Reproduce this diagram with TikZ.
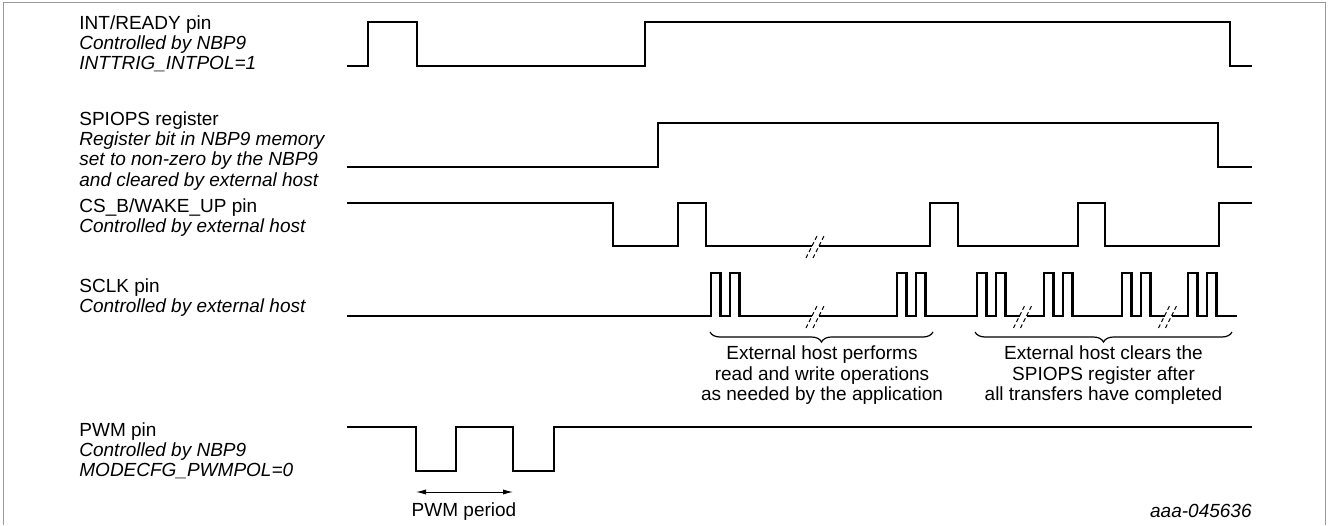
\documentclass[tikz,border=0pt]{standalone}
\usepackage{fontspec}
\setmainfont{Liberation Sans}
\usetikzlibrary{arrows.meta,positioning,decorations.pathreplacing}
\definecolor{frgrey}{HTML}{9A9A9A}
% break mark on a signal line: gap + two dashed slashes
\newcommand{\sigbreak}[2]{%
  \fill[white] (#1-3.5,#2-3) rectangle (#1+3.5,#2+3);
  \draw[brk] (#1-9.5,#2+12) -- (#1+2.5,#2-12);
  \draw[brk] (#1-2.5,#2+12) -- (#1+9.5,#2-12);}

\begin{document}
\begin{tikzpicture}[
  x=0.5pt,y=-0.5pt,
  font=\fontsize{9.5}{10.2}\selectfont,
  sig/.style={line width=1.25pt},
  brk/.style={line width=0.5pt,dash pattern=on 2pt off 1.4pt},
  lbl/.style={anchor=base west,align=left,inner sep=0pt},
  note/.style={anchor=base,align=center,inner sep=0pt},
  brc/.style={decorate,decoration={brace,mirror,amplitude=5pt},line width=0.6pt},
  >={Latex[length=5pt,width=2.6pt]}]
\useasboundingbox (0,0) rectangle (1328,525);
\draw[frgrey,line width=0.5pt] (3,525) |- (1325,2) -- (1325,525);

% signal names (base = last line)
\node[lbl] (lint) at (79,69.8) {INT/READY pin\\\textit{Controlled by NBP9}\\\textit{INTTRIG\_INTPOL=1}};
\node[lbl] (lspi) at (79,186.2) {SPIOPS register\\\textit{Register bit in NBP9 memory}\\\textit{set to non-zero by the NBP9}\\\textit{and cleared by external host}};
\node[lbl] (lcs) at (79,232.4) {CS\_B/WAKE\_UP pin\\\textit{Controlled by external host}};
\node[lbl] (lclk) at (79,312.4) {SCLK pin\\\textit{Controlled by external host}};
\node[lbl] (lpwm) at (79,476.8) {PWM pin\\\textit{Controlled by NBP9}\\\textit{MODECFG\_PWMPOL=0}};

% waveforms
\draw[sig] (347,66) -| (368,22) -| (417,66) -| (645,22) -| (1230,66) -- (1252,66);
\draw[sig] (347,167) -| (658,123) -| (1218,167) -- (1252,167);
\draw[sig] (347,203) -| (613,246) -| (678,203) -| (706,246) -| (930,203) -| (958,246)
  -| (1078,203) -| (1105,246) -| (1219,203) -- (1252,203);
\draw[sig] (347,316) foreach \b in {711,897,977,1044,1122,1188} {
  -| (\b,273) -| ++(9.5,43) -| ++(9.5,-43) -| ++(9.5,43) } -- (1237,316);
\draw[sig] (347,427) -| (416,471) -| (456,427) -| (513,471) -| (554,427) -- (1252,427);

\sigbreak{815.5}{246}
\sigbreak{815.5}{316}
\sigbreak{1023}{316}
\sigbreak{1168}{316}

% braces and notes
\coordinate (b1l) at (710,332);
\coordinate (b1r) at (933,332);
\coordinate (b2l) at (975,332);
\coordinate (b2r) at (1232,332);
\draw[brc] (b1l) -- (b1r);
\draw[brc] (b2l) -- (b2r);
\node[note] (tops) at (822,400.4) {External host performs\\read and write operations\\as needed by the application};
\node[note] (tclr) at (1103.5,400.4) {External host clears the\\SPIOPS register after\\all transfers have completed};

% PWM period
\coordinate (pa) at (416,492);
\coordinate (pb) at (513,492);
\draw[<->,line width=0.5pt] (pa) -- (pb);
\node[note] (tper) at (464,516) {PWM period};

\node[anchor=base east,inner sep=0pt] (tid) at (1252,517) {\textit{aaa-045636}};
\end{tikzpicture}
\end{document}
